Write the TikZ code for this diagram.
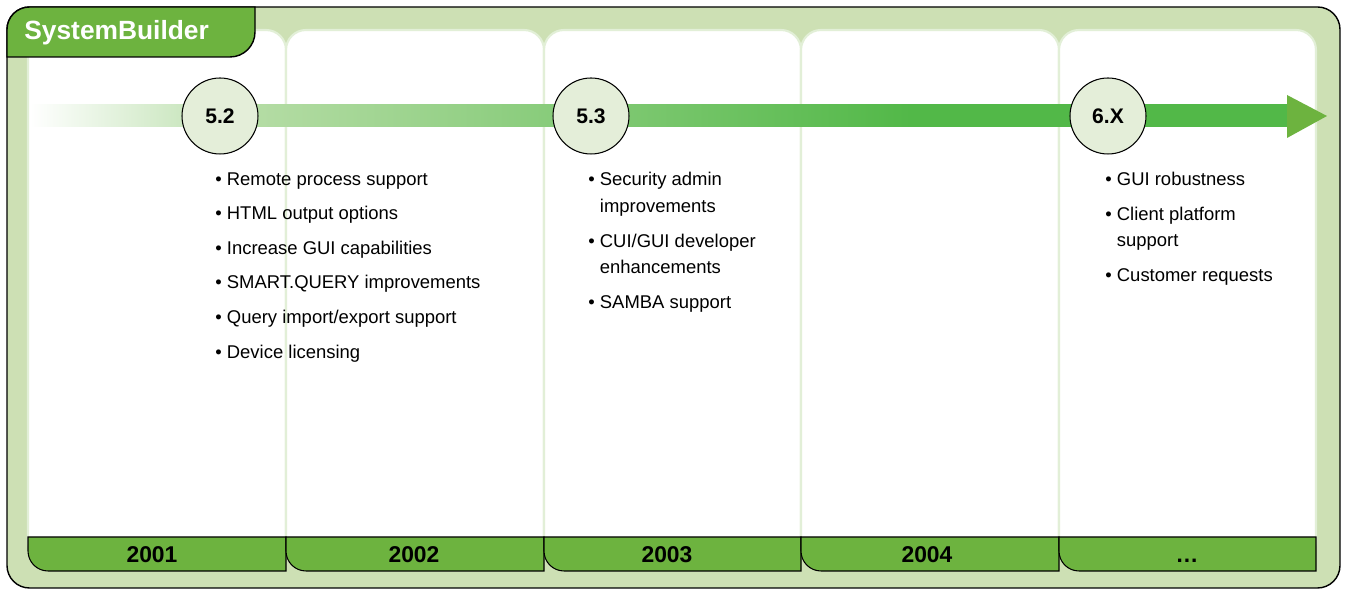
\documentclass[tikz,border=0pt]{standalone}
\usepackage{fontspec}
\setmainfont{Liberation Sans}
\usetikzlibrary{positioning}

\definecolor{sbpale}{RGB}{205,224,180}
\definecolor{sbline}{RGB}{226,239,215}
\definecolor{sbgreen}{RGB}{109,179,63}
\definecolor{sbarrow}{RGB}{82,184,72}
\definecolor{sbmid}{RGB}{180,220,164}
\definecolor{sbcircle}{RGB}{228,238,217}

\pgfdeclarehorizontalshading{sbband}{100bp}{color(0bp)=(white); color(25bp)=(white); color(34bp)=(sbmid); color(60bp)=(sbarrow); color(100bp)=(sbarrow)}

\begin{document}
\begin{tikzpicture}[
    x=0.02cm, y=0.02cm,
    panel/.style={draw=sbline, fill=white, line width=1.2pt, rounded corners=0.4cm},
    yearbar/.style={draw=black, fill=sbgreen, line width=0.6pt},
    year/.style={anchor=base, font=\bfseries\fontsize{13}{13}\selectfont},
    release/.style={circle, draw=black, fill=sbcircle, line width=0.6pt, minimum size=1.52cm, inner sep=0pt, font=\bfseries\fontsize{12}{12}\selectfont},
    notes/.style={anchor=north west, align=left, inner sep=0pt, font=\fontsize{10.5}{15}\selectfont}
]

\useasboundingbox (0,0) rectangle (1347,591);

% Frame
\draw[fill=sbpale, line width=0.8pt, rounded corners=0.45cm] (7,3) rectangle (1340,584);

% Year columns
\draw[panel] (28,30) rectangle (286,561);
\draw[panel] (286,30) rectangle (544,561);
\draw[panel] (544,30) rectangle (801,561);
\draw[panel] (801,30) rectangle (1059,561);
\draw[panel] (1059,30) rectangle (1316,561);

% Title tab
\draw[fill=sbgreen, line width=0.8pt] (7,534) -- (7,561.5) arc[start angle=180, end angle=90, radius=0.45cm] -- (255,584) -- (255,559) arc[start angle=0, end angle=-90, radius=0.5cm] -- cycle;
\node[anchor=west, inner sep=0pt, text=white, font=\bfseries\fontsize{15}{15}\selectfont] at (24,558) (title) {SystemBuilder};

% Timeline band and head
\shade[shading=sbband] (30,464) rectangle (1288,486);
\fill[sbgreen] (1287,496) -- (1327,475) -- (1287,453) -- cycle;

% Releases
\node[release] at (220,475) (r52) {5.2};
\node[release] at (591,475) (r53) {5.3};
\node[release] at (1108,475) (r6x) {6.X};

% Release notes
\node[notes] at (215,419) (n52) {%
• Remote process support\\[4.7pt]
• HTML output options\\[4.7pt]
• Increase GUI capabilities\\[4.7pt]
• SMART.QUERY improvements\\[4.7pt]
• Query import/export support\\[4.7pt]
• Device licensing};
\node[notes] at (588,419) (n53) {%
• Security admin\\
\hphantom{•\ }improvements\\[5pt]
• CUI/GUI developer\\
\hphantom{•\ }enhancements\\[5pt]
• SAMBA support};
\node[notes] at (1105,419) (n6x) {%
• GUI robustness\\[4.7pt]
• Client platform\\
\hphantom{•\ }support\\[5pt]
• Customer requests};

% Year bars
\draw[yearbar] (286,54) -- (28,54) -- (28,40) arc[start angle=180, end angle=270, radius=0.4cm] -- (286,20) -- cycle;
\draw[yearbar] (544,54) -- (286,54) -- (286,40) arc[start angle=180, end angle=270, radius=0.4cm] -- (544,20) -- cycle;
\draw[yearbar] (801,54) -- (544,54) -- (544,40) arc[start angle=180, end angle=270, radius=0.4cm] -- (801,20) -- cycle;
\draw[yearbar] (1059,54) -- (801,54) -- (801,40) arc[start angle=180, end angle=270, radius=0.4cm] -- (1059,20) -- cycle;
\draw[yearbar] (1316,54) -- (1059,54) -- (1059,40) arc[start angle=180, end angle=270, radius=0.4cm] -- (1316,20) -- cycle;

\node[year] at (152,28) (y2001) {2001};
\node[year] at (414,28) (y2002) {2002};
\node[year] at (667,28) (y2003) {2003};
\node[year] at (927,28) (y2004) {2004};
\node[year] at (1187,28) (ymore) {…};

\end{tikzpicture}
\end{document}
